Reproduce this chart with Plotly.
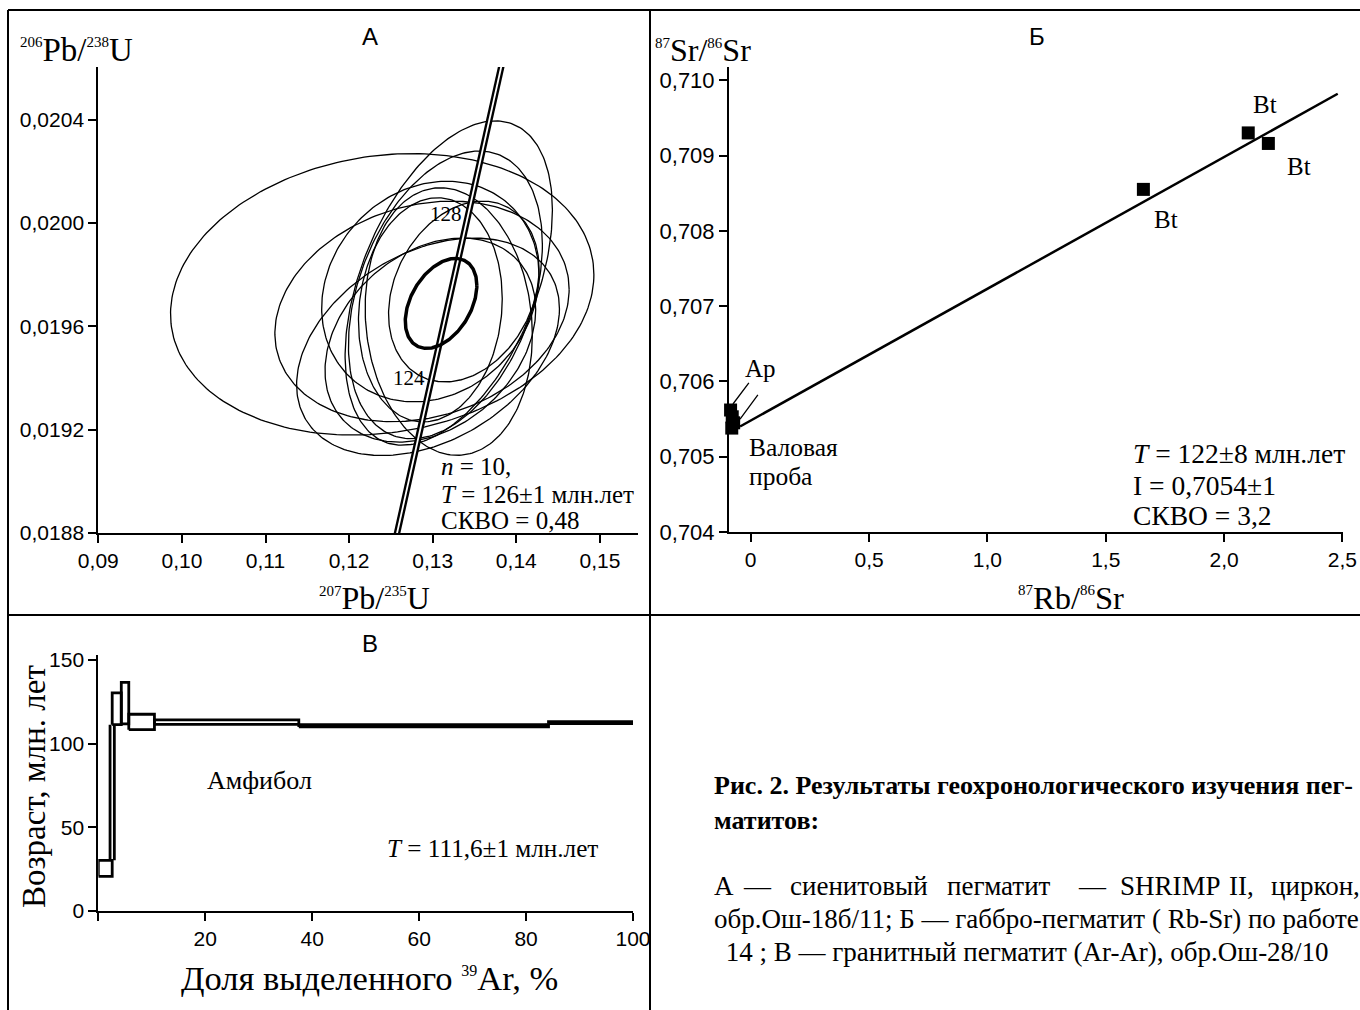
import numpy as np
import plotly.graph_objects as go

W, H = 1360, 1010
SERIF = "Liberation Serif"
SANS = "Liberation Sans"

# ---------------- Panel A: U-Pb concordia (SHRIMP II) ----------------
ell_cx = [0.12396, 0.13192, 0.13152, 0.12872, 0.12944, 0.12972, 0.12972, 0.13372, 0.12972, 0.13192]
ell_cy = [0.019724, 0.019768, 0.019722, 0.019658, 0.019521, 0.019735, 0.019664, 0.019735, 0.019547, 0.019619]
ell_sx = [0.02532, 0.0124, 0.0116, 0.0176, 0.01572, 0.0130, 0.0086, 0.0090, 0.0126, 0.0100]
ell_sy = [0.000545, 0.000628, 0.000557, 0.000427, 0.000421, 0.000427, 0.000434, 0.000350, 0.000395, 0.000518]
ell_rho = [0.14, 0.45, 0.35, 0.20, 0.35, 0.15, 0.10, 0.25, 0.30, -0.10]
mean_cx, mean_cy, mean_sx, mean_sy, mean_rho = 0.1310, 0.019689, 0.00428, 0.000174, 0.40

concordia_x = [0.1256, 0.1383]
concordia_y = [0.01878, 0.02062]
concordia_tick_labels = ["124", "128"]
concordia_tick_x = [0.12990, 0.13435]
concordia_tick_y = [0.019422, 0.020054]

a_xticks = [0.09, 0.10, 0.11, 0.12, 0.13, 0.14, 0.15]
a_xticktext = ["0,09", "0,10", "0,11", "0,12", "0,13", "0,14", "0,15"]
a_yticks = [0.0188, 0.0192, 0.0196, 0.0200, 0.0204]
a_yticktext = ["0,0188", "0,0192", "0,0196", "0,0200", "0,0204"]

# ---------------- Panel Б: Rb-Sr isochron ----------------
bt_x = [1.659, 2.102, 2.187]
bt_y = [0.70855, 0.70930, 0.70916]
wr_x = [-0.085, -0.078, -0.072, -0.080]
wr_y = [0.70562, 0.70553, 0.70545, 0.70538]
iso_intercept = 0.70548
iso_slope = 0.00175
iso_x_range = [-0.045, 2.48]

b_xticks = [0, 0.5, 1.0, 1.5, 2.0, 2.5]
b_xticktext = ["0", "0,5", "1,0", "1,5", "2,0", "2,5"]
b_yticks = [0.704, 0.705, 0.706, 0.707, 0.708, 0.709, 0.710]
b_yticktext = ["0,704", "0,705", "0,706", "0,707", "0,708", "0,709", "0,710"]

# ---------------- Panel В: Ar-Ar age spectrum ----------------
step_bounds = [0, 2.6, 4.3, 5.7, 10.5, 37.5, 84.2, 100]
step_age_lo = [20.7, 111.4, 111.8, 108.4, 111.6, 110.05, 111.95]
step_age_hi = [30.3, 130.4, 136.7, 117.6, 114.2, 111.35, 113.25]

v_xticks = [0, 20, 40, 60, 80, 100]
v_xticktext = ["", "20", "40", "60", "80", "100"]
v_yticks = [0, 50, 100, 150]
v_yticktext = ["0", "50", "100", "150"]


def PX(px):
    return px / W


def PY(py):
    return 1 - py / H


fig = go.Figure()

# --- Panel A traces
t = np.linspace(0, 2 * np.pi, 240)
ex, ey = [], []
for cx, cy, sx, sy, r in zip(ell_cx, ell_cy, ell_sx, ell_sy, ell_rho):
    ex += list(cx + sx * np.cos(t)) + [None]
    ey += list(cy + sy * (r * np.cos(t) + np.sqrt(1 - r * r) * np.sin(t))) + [None]
fig.add_trace(go.Scatter(x=ex, y=ey, mode="lines", line=dict(color="black", width=1.3),
                         xaxis="x", yaxis="y", hoverinfo="skip"))
fig.add_trace(go.Scatter(x=concordia_x, y=concordia_y, mode="lines",
                         line=dict(color="black", width=6.5), xaxis="x", yaxis="y", hoverinfo="skip"))
fig.add_trace(go.Scatter(x=concordia_x, y=concordia_y, mode="lines",
                         line=dict(color="white", width=1.8), xaxis="x", yaxis="y", hoverinfo="skip"))
mx = mean_cx + mean_sx * np.cos(t)
my = mean_cy + mean_sy * (mean_rho * np.cos(t) + np.sqrt(1 - mean_rho ** 2) * np.sin(t))
fig.add_trace(go.Scatter(x=mx, y=my, mode="lines", line=dict(color="black", width=3.5),
                         xaxis="x", yaxis="y", hoverinfo="skip"))

# --- Panel Б traces
ix = np.array(iso_x_range)
fig.add_trace(go.Scatter(x=ix, y=iso_intercept + iso_slope * ix, mode="lines",
                         line=dict(color="black", width=2.5), xaxis="x2", yaxis="y2", hoverinfo="skip"))
fig.add_trace(go.Scatter(x=bt_x + wr_x, y=bt_y + wr_y, mode="markers",
                         marker=dict(symbol="square", size=13, color="black", line=dict(width=0)),
                         cliponaxis=False, xaxis="x2", yaxis="y2", hoverinfo="skip"))

# --- Panel В traces
bx, by = [], []
for i in range(len(step_age_lo)):
    x0, x1 = step_bounds[i], step_bounds[i + 1]
    lo, hi = step_age_lo[i], step_age_hi[i]
    bx += [x0, x1, x1, x0, x0, None]
    by += [lo, lo, hi, hi, lo, None]
    if i + 1 < len(step_age_lo) and step_age_hi[i] < step_age_lo[i + 1]:
        b = step_bounds[i + 1]
        for dx in (-0.4, 0.4):
            bx += [b + dx, b + dx, None]
            by += [step_age_hi[i], step_age_lo[i + 1], None]
fig.add_trace(go.Scatter(x=bx, y=by, mode="lines", line=dict(color="black", width=2.8),
                         cliponaxis=False, xaxis="x3", yaxis="y3", hoverinfo="skip"))


def axis(domain, rng, tickvals, ticktext, anchor, fs=21):
    return dict(domain=domain, range=rng, tickvals=tickvals, ticktext=ticktext, anchor=anchor,
                showline=True, linecolor="black", linewidth=2, ticks="outside", ticklen=8,
                tickwidth=2, tickcolor="black", showgrid=False, zeroline=False, automargin=False,
                tickfont=dict(family=SANS, size=fs, color="black"), fixedrange=True)


layout = dict(
    width=W, height=H, autosize=False,
    margin=dict(l=0, r=0, t=0, b=0, pad=0, autoexpand=False),
    paper_bgcolor="white", plot_bgcolor="rgba(0,0,0,0)", showlegend=False,
    xaxis=axis([PX(98.3), PX(638)], [0.09, 0.09 + (638 - 98.3) / 8360], a_xticks, a_xticktext, "y"),
    yaxis=axis([PY(533), PY(67)], [0.0188, 0.0188 + 466 / 258250], a_yticks, a_yticktext, "x"),
    xaxis2=axis([PX(729), PX(1343)], [-(750.7 - 729) / 236.7, (1343 - 750.7) / 236.7], b_xticks, b_xticktext, "y2"),
    yaxis2=axis([PY(532), PY(67)], [0.704, 0.704 + 465 / 75300], b_yticks, b_yticktext, "x2", fs=22),
    xaxis3=axis([PX(98.3), PX(633)], [0, 100], v_xticks, v_xticktext, "y3"),
    yaxis3=axis([PY(911), PY(655)], [0, 256 / 1.673], v_yticks, v_yticktext, "x3"),
)
fig.update_layout(**layout)

# frame lines
frame = [(8, 10, 1360, 10), (8, 10, 8, 1010), (650, 10, 650, 1010), (8, 615, 1360, 615)]
for x0, y0, x1, y1 in frame:
    fig.add_shape(type="line", xref="paper", yref="paper", x0=PX(x0), y0=PY(y0), x1=PX(x1), y1=PY(y1),
                  line=dict(color="black", width=2))


def note(text, px, py, size=22, family=SERIF, xanchor="center", yanchor="middle", **kw):
    fig.add_annotation(text=text, x=PX(px), y=PY(py), xref="paper", yref="paper", showarrow=False,
                       xanchor=xanchor, yanchor=yanchor, borderpad=0,
                       font=dict(family=family, size=size, color="black"), **kw)


def sup(s, fs=15):
    return f"<sup><span style='font-size:{fs}px'>{s}</span></sup>"


# panel letters
note("А", 370, 36, size=24, family=SANS)
note("Б", 1037, 36, size=24, family=SANS)
note("В", 370, 643, size=24, family=SANS)

# axis titles
note(f"{sup('206')}Pb/{sup('238')}U", 19, 50, size=33, xanchor="left")
note(f"{sup('207')}Pb/{sup('235')}U", 374, 598, size=32)
note(f"{sup('87')}Sr/{sup('86')}Sr", 654, 50, size=32, xanchor="left")
note(f"{sup('87')}Rb/{sup('86')}Sr", 1071, 598, size=32.5)
note("Возраст, млн. лет", 34, 787, size=33, textangle=-90)
note(f"Доля выделенного {sup('39', 16)}Ar, %", 370, 978, size=34.5)

# panel A texts
note("<i>n</i> = 10,", 440, 467, size=25, xanchor="left")
note("<i>T</i> = 126±1 млн.лет", 440, 494, size=25, xanchor="left")
note("СКВО = 0,48", 440, 520, size=25, xanchor="left")
for lab, cx, cy, dy in zip(concordia_tick_labels, concordia_tick_x, concordia_tick_y, [-6, -5]):
    fig.add_annotation(text=lab, x=cx, y=cy, xref="x", yref="y", showarrow=False, xanchor="right",
                       yanchor="middle", xshift=-5, yshift=dy, font=dict(family=SERIF, size=21, color="black"))

# panel Б texts
for x, y, sx_, sy_ in zip(bt_x, bt_y, [23, 17, 31], [-30, 28, -23]):
    fig.add_annotation(text="Bt", x=x, y=y, xref="x2", yref="y2", showarrow=False, xshift=sx_, yshift=sy_,
                       font=dict(family=SERIF, size=25, color="black"))
note("Ap", 760, 368, size=25)
for (hx, hy), (tx, ty) in zip([(-0.075, 0.70570), (-0.045, 0.70550)], [(-0.003, 0.70600), (0.035, 0.70584)]):
    fig.add_annotation(x=hx, y=hy, ax=tx, ay=ty, xref="x2", yref="y2", axref="x2", ayref="y2", text="",
                       showarrow=True, arrowhead=0, arrowwidth=1.3, arrowcolor="black")
note("Валовая", 748, 448, size=25.5, xanchor="left")
note("проба", 748, 476, size=25.5, xanchor="left")
note("<i>T</i> = 122±8 млн.лет", 1132, 454, size=27.5, xanchor="left")
note("I = 0,7054±1", 1132, 485, size=27.5, xanchor="left")
note("СКВО = 3,2", 1132, 515, size=27.5, xanchor="left")

# panel В texts
note("Амфибол", 259, 780, size=26)
note("<i>T</i> = 111,6±1 млн.лет", 386, 848, size=25.2, xanchor="left")

# caption
note("<b>Рис. 2. Результаты геохронологического изучения пег-</b>", 713, 785, size=26, xanchor="left")
note("<b>матитов:</b>", 713, 820, size=26, xanchor="left")
words = ["А", "—", "сиенитовый", "пегматит", "—", "SHRIMP", "II,", "циркон,"]
word_x = [713, 742, 789, 946, 1077, 1119, 1228, 1270]
for wd, wx in zip(words, word_x):
    note(wd, wx, 886, size=27, xanchor="left")
note("обр.Ош-18б/11; Б — габбро-пегматит ( Rb-Sr) по работе", 713, 919, size=27, xanchor="left")
note(" 14 ; В — гранитный пегматит (Ar-Ar), обр.Ош-28/10", 718, 952, size=27, xanchor="left")

post = """
document.documentElement.style.margin='0';document.body.style.margin='0';
document.documentElement.style.overflow='hidden';document.body.style.overflow='hidden';
"""

fig.write_html("out.html", config={"displayModeBar": False}, post_script=post)
